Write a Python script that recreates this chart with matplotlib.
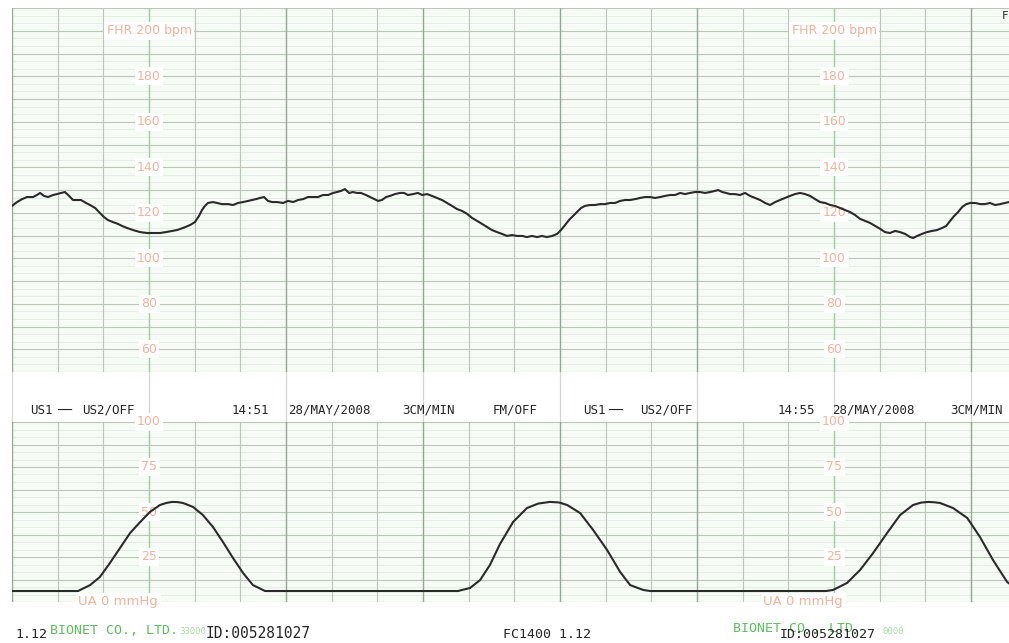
import matplotlib
matplotlib.use("Agg")
import matplotlib.pyplot as plt
import numpy as np

# --- Strip geometry (pixels of the saved figure) ---
W, H = 1009, 643
STRIP_SECONDS = 436.6        # visible recording time at 3 cm/min

# --- Fetal heart rate trace: seconds from strip start, bpm ---
FHR_TIME = [
    0, 2.2, 4.4, 6.6, 9.2, 10.9, 12.3, 14.0, 15.8, 18.0, 19.7, 21.5, 23.2, 25.0,
    26.7, 28.5, 30.2, 32.4, 34.2, 36.4, 38.5, 40.3, 42.0, 44.2, 46.4, 48.2, 50.4,
    53.0, 56.1, 59.1, 61.8, 64.8, 67.4, 70.1, 72.3, 74.9, 78.0, 80.1, 81.9, 83.2,
    84.5, 85.8, 88.0, 89.8, 92.0, 94.6, 96.8, 99.0, 101.2, 103.4, 105.1, 106.9,
    108.6, 110.4, 112.1, 113.9, 116.1, 118.7, 120.9, 123.1, 125.3, 127.5, 129.6,
    131.8, 134.0, 136.2, 138.4, 140.6, 142.3, 144.1, 145.8, 147.6, 149.3, 151.1,
    152.8, 155.0, 156.8, 158.5, 160.3, 162.0, 163.8, 165.5, 167.7, 169.9, 171.7,
    173.4, 175.6, 177.8, 179.6, 181.8, 183.9, 186.1, 188.3, 190.5, 192.7, 194.9,
    197.1, 199.3, 201.5, 203.7, 205.8, 208.0, 210.2, 212.4, 214.6, 216.8, 219.0,
    221.2, 223.4, 225.5, 227.7, 229.9, 232.1, 234.3, 236.5, 238.7, 240.4, 242.2,
    243.9, 245.7, 247.4, 249.2, 250.9, 253.1, 255.3, 257.5, 259.7, 261.9, 264.1,
    266.3, 268.5, 270.7, 272.9, 275.0, 277.2, 279.4, 281.6, 283.8, 286.0, 288.2,
    290.4, 292.6, 294.7, 296.9, 299.1, 301.3, 303.5, 305.7, 307.9, 309.2, 311.0,
    312.7, 314.5, 316.6, 318.8, 321.0, 323.2, 325.4, 327.6, 329.8, 332.0, 334.2,
    336.3, 338.5, 340.7, 342.9, 345.1, 347.3, 349.5, 351.7, 353.9, 356.1, 358.3,
    360.4, 362.6, 364.8, 367.0, 369.2, 371.4, 373.6, 375.8, 378.0, 380.2, 382.3,
    384.5, 386.7, 388.9, 391.1, 393.3, 394.6, 396.4, 398.5, 400.7, 402.9, 405.1,
    407.3, 409.1, 410.8, 412.6, 414.3, 416.1, 417.9, 419.6, 421.8, 424.0, 426.1,
    428.3, 430.5, 432.7, 434.9, 436.6,
]
FHR_BPM = [
    123.0, 124.7, 126.0, 126.9, 126.9, 127.8, 128.7, 127.4, 126.9, 127.8, 128.2,
    128.7, 129.1, 127.4, 125.6, 125.6, 125.6, 124.3, 123.4, 122.1, 119.9, 118.1,
    116.8, 115.9, 115.1, 114.2, 113.3, 112.4, 111.5, 111.1, 111.1, 111.1, 111.5,
    112.0, 112.4, 113.3, 114.6, 115.9, 118.6, 121.2, 123.0, 124.3, 124.7, 124.3,
    123.8, 123.8, 123.4, 124.3, 124.7, 125.2, 125.6, 126.0, 126.5, 126.9, 125.2,
    124.7, 124.7, 124.3, 125.2, 124.7, 125.6, 126.0, 126.9, 126.9, 126.9, 127.8,
    127.8, 128.7, 129.1, 129.6, 130.4, 128.7, 129.1, 128.7, 128.7, 127.8, 126.9,
    126.0, 125.2, 125.6, 126.9, 127.4, 128.2, 128.7, 128.7, 127.8, 128.2, 128.7,
    127.8, 128.2, 127.4, 126.5, 125.6, 124.3, 123.0, 121.6, 120.8, 119.5, 117.7,
    116.4, 115.1, 113.7, 112.4, 111.5, 110.7, 109.8, 110.2, 109.8, 109.8, 109.3,
    109.8, 109.3, 109.8, 109.3, 109.8, 110.7, 112.4, 114.6, 116.8, 118.6, 120.3,
    122.1, 123.0, 123.4, 123.4, 123.8, 123.8, 124.3, 124.3, 125.2, 125.6, 125.6,
    126.0, 126.5, 126.9, 126.9, 126.5, 126.9, 127.4, 127.8, 127.8, 128.7, 128.2,
    128.7, 129.1, 129.1, 128.7, 129.1, 129.6, 130.0, 129.1, 128.7, 128.2, 128.2,
    127.8, 128.7, 127.4, 126.5, 125.6, 124.3, 123.4, 124.7, 125.6, 126.5, 127.4,
    128.2, 128.7, 128.2, 127.4, 126.0, 124.7, 124.3, 123.4, 123.0, 122.1, 121.2,
    120.3, 119.0, 117.3, 116.4, 115.5, 114.2, 112.9, 111.5, 111.1, 112.0, 111.5,
    110.7, 109.3, 108.9, 109.8, 110.7, 111.5, 112.0, 112.4, 113.3, 114.2, 116.4,
    118.6, 120.3, 122.5, 123.8, 124.3, 124.3, 123.8, 123.8, 124.3, 123.4, 123.8,
    124.3, 124.7,
]

# --- Uterine activity trace: seconds, mmHg ---
UA_TIME = [
    0, 28.9, 34.2, 38.5, 42.9, 47.3, 51.7, 56.1, 60.4, 64.8, 67.5, 70.1, 72.5,
    74.9, 79.3, 83.6, 88.0, 92.4, 96.8, 101.2, 105.5, 110.8,
    195.3, 200.6, 205.0, 209.3, 213.7, 219.4, 225.5, 230.5, 235.6, 239.5, 243.1,
    248.8, 254.5, 260.6, 266.3, 270.7, 276.4, 279.4,
    356.5, 359.6, 365.7, 371.4, 377.1, 383.2, 388.9, 394.6, 398.0, 401.2, 404.0,
    406.4, 412.1, 418.3, 423.9, 429.6, 435.8, 439.3,
]
UA_MMHG = [
    6.1, 6.1, 9.4, 13.9, 21.7, 30.0, 38.3, 44.4, 50.0, 53.9, 55.0, 55.6, 55.5,
    55.0, 52.8, 48.3, 41.7, 33.3, 24.4, 16.1, 9.4, 6.1,
    6.1, 7.8, 12.2, 20.6, 32.2, 44.4, 52.2, 54.7, 55.6, 55.3, 53.9,
    49.4, 40.0, 28.9, 16.7, 9.4, 6.7, 6.1,
    6.1, 6.7, 10.6, 17.8, 27.2, 38.3, 48.3, 53.9, 55.2, 55.6, 55.4,
    55.0, 52.2, 46.7, 36.1, 23.3, 11.1, 7.8,
]

FHR_RANGE = (50, 210)
UA_RANGE = (0, 100)
FHR_SCALE = [180, 160, 140, 120, 100, 80, 60]
UA_SCALE = [100, 75, 50, 25]
SCALE_TIMES = [60, 360]      # columns where the printer writes the scales

# --- Colours ---
PAPER = "#f6fbf5"
MINOR = "#e2ece1"
MID = "#b9c6b8"
MINUTE = "#97a596"
SCALE_LINE = "#9fcf9f"
SCALE_TEXT = "#f3b29c"
INK = "#2a2a2a"
PRINT = "#262626"
GREEN = "#5cbf5c"
PALE_GREEN = "#a8dca8"
MONO = "DejaVu Sans Mono"


def fx(px):
    return px / W


def fy(py):
    return 1 - py / H


def clean_axes(ax, ylim):
    ax.set_xlim(0, STRIP_SECONDS)
    ax.set_ylim(*ylim)
    ax.set_xticks([])
    ax.set_yticks([])
    for s in ax.spines.values():
        s.set_visible(False)


def draw_grid(ax, ylim, mid_step):
    """Chart-paper grid: fine lines every third of a half-cm, darker every half-cm."""
    ax.set_facecolor(PAPER)
    lo, hi = ylim
    n_mid = int(round((hi - lo) / mid_step))
    for y in np.linspace(lo, hi, n_mid * 3 + 1):
        ax.axhline(y, color=MINOR, lw=0.6, zorder=0)
    for y in np.linspace(lo, hi, n_mid + 1):
        ax.axhline(y, color=MID, lw=0.8, zorder=1)
    for t in np.arange(0, STRIP_SECONDS, 20):
        if t in SCALE_TIMES:
            ax.axvline(t, color=SCALE_LINE, lw=1.0, zorder=1)
        elif t % 60 == 0:
            ax.axvline(t, color=MINUTE, lw=1.0, zorder=1)
        else:
            ax.axvline(t, color=MID, lw=0.8, zorder=1)


def scale_label(ax, t, y, text, **kw):
    ax.text(t, y, text, ha="center", va="center", color=SCALE_TEXT,
            fontsize=9, family="DejaVu Sans", clip_on=False, zorder=3,
            bbox=dict(boxstyle="square,pad=0.2", fc="white", ec="none"), **kw)


fig = plt.figure(figsize=(W / 100, H / 100), dpi=100, facecolor="white")

ax_fhr = fig.add_axes([fx(12), fy(372), 1 - fx(12), (372 - 8) / H])
ax_band = fig.add_axes([fx(12), fy(422), 1 - fx(12), (422 - 372) / H])
ax_ua = fig.add_axes([fx(12), fy(602), 1 - fx(12), (602 - 422) / H])

# FHR panel
draw_grid(ax_fhr, FHR_RANGE, 10)
clean_axes(ax_fhr, FHR_RANGE)
for t in SCALE_TIMES:
    scale_label(ax_fhr, t, 200, "FHR 200 bpm")
    for v in FHR_SCALE:
        scale_label(ax_fhr, t, v, str(v))
ax_fhr.plot(FHR_TIME, FHR_BPM, color=INK, lw=1.5, zorder=4)

# white band holding the status line; only the minute lines run through it
ax_band.set_facecolor("white")
clean_axes(ax_band, (0, 1))
for t in np.arange(0, STRIP_SECONDS, 60):
    ax_band.axvline(t, color="#cdd7cd", lw=0.9, zorder=0)

# UA panel
draw_grid(ax_ua, UA_RANGE, 12.5)
clean_axes(ax_ua, UA_RANGE)
for t in SCALE_TIMES:
    for v in UA_SCALE:
        scale_label(ax_ua, t, v, str(v))
    ax_ua.text(t - 31, 0, "UA 0 mmHg", ha="left", va="center", color=SCALE_TEXT,
               fontsize=9.5, family="DejaVu Sans", clip_on=False, zorder=3,
               bbox=dict(boxstyle="square,pad=0.2", fc="white", ec="none"))
ax_ua.plot(UA_TIME, UA_MMHG, color=INK, lw=1.5, zorder=4)

# status line printed between the panels
status = [
    (30, "US1"), (57, "──"), (82, "US2/OFF"),
    (232, "14:51"), (288, "28/MAY/2008"), (402, "3CM/MIN"), (493, "FM/OFF"),
    (583, "US1"), (608, "──"), (640, "US2/OFF"),
    (778, "14:55"), (832, "28/MAY/2008"), (950, "3CM/MIN"),
]
for px, txt in status:
    fig.text(fx(px), fy(410), txt, ha="left", va="center", color=PRINT,
             fontsize=9, family=MONO)

# footer
fig.text(fx(15), fy(634), "1.12", ha="left", va="center", color=PRINT,
         fontsize=9.5, family=MONO)
fig.text(fx(50), fy(630), "BIONET CO., LTD.", ha="left", va="center",
         color=GREEN, fontsize=9.5, family=MONO)
fig.text(fx(179), fy(631), "33000", ha="left", va="center", color=PALE_GREEN,
         fontsize=6.5, family=MONO)
fig.text(fx(206), fy(634), "ID:005281027", ha="left", va="center", color=PRINT,
         fontsize=10.5, family=MONO)
fig.text(fx(503), fy(635), "FC1400 1.12", ha="left", va="center", color=PRINT,
         fontsize=9.5, family=MONO)
fig.text(fx(733), fy(629), "BIONET CO., LTD.", ha="left", va="center",
         color=GREEN, fontsize=9.5, family=MONO)
fig.text(fx(780), fy(634), "ID:005281027", ha="left", va="center", color=PRINT,
         fontsize=9.5, family=MONO)
fig.text(fx(882), fy(631), "0000", ha="left", va="center", color=PALE_GREEN,
         fontsize=6.5, family=MONO)
fig.text(fx(1002), fy(16), "F", ha="left", va="center", color=PRINT,
         fontsize=8, family=MONO)

fig.savefig("out.png", dpi=100, facecolor="white")
